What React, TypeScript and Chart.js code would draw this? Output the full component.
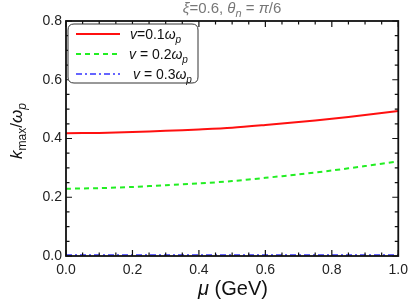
import React, { useEffect, useRef } from "react";
import { Chart, registerables } from "chart.js";

Chart.register(...registerables);

const muValues = [0, 0.1, 0.2, 0.3, 0.4, 0.5, 0.6, 0.7, 0.8, 0.9, 1.0];
const v01Values = [0.418, 0.419, 0.422, 0.426, 0.431, 0.437, 0.446, 0.456, 0.467, 0.48, 0.494];
const v02Values = [0.229, 0.231, 0.235, 0.241, 0.247, 0.255, 0.266, 0.278, 0.291, 0.306, 0.322];
const v03Values = [0.003, 0.003, 0.003, 0.003, 0.003, 0.003, 0.003, 0.003, 0.003, 0.003, 0.003];
const xTicks = [0, 0.2, 0.4, 0.6, 0.8, 1.0];
const yTicks = [0, 0.2, 0.4, 0.6, 0.8];

type Seg = { t: string; it?: boolean; sub?: boolean };

const FONT = "'Liberation Sans', Arial, sans-serif";

function drawRich(ctx: CanvasRenderingContext2D, segs: Seg[], x: number, y: number, size: number, align: "left" | "center", color: string) {
  const fontFor = (s: Seg) => `${s.it ? "italic " : ""}${s.sub ? Math.round(size * 0.72) : size}px ${FONT}`;
  let total = 0;
  for (const s of segs) {
    ctx.font = fontFor(s);
    total += ctx.measureText(s.t).width;
  }
  let cx = align === "center" ? x - total / 2 : x;
  ctx.fillStyle = color;
  ctx.textBaseline = "alphabetic";
  ctx.textAlign = "left";
  for (const s of segs) {
    ctx.font = fontFor(s);
    ctx.fillText(s.t, cx, s.sub ? y + size * 0.25 : y);
    cx += ctx.measureText(s.t).width;
  }
}

const legendItems = [
  { color: "#ff1010", dash: [] as number[], width: 2, segs: [{ t: "v", it: true }, { t: "=0.1" }, { t: "ω", it: true }, { t: "p", it: true, sub: true }] as Seg[], tx: 130 },
  { color: "#22ee22", dash: [5, 4], width: 2, segs: [{ t: "v", it: true }, { t: " = 0.2" }, { t: "ω", it: true }, { t: "p", it: true, sub: true }] as Seg[], tx: 129 },
  { color: "#3333ff", dash: [6, 3, 2, 3], width: 1.5, segs: [{ t: "v", it: true }, { t: " = 0.3" }, { t: "ω", it: true }, { t: "p", it: true, sub: true }] as Seg[], tx: 133 },
];

const decorPlugin = {
  id: "decor",
  afterDraw(chart: any) {
    const ctx: CanvasRenderingContext2D = chart.ctx;
    const { left, right, top, bottom } = chart.chartArea;
    const xs = chart.scales.x;
    const ys = chart.scales.y;
    ctx.save();
    // ticks
    ctx.strokeStyle = "#111";
    ctx.lineWidth = 1.2;
    ctx.setLineDash([]);
    for (let i = 0; i <= 20; i++) {
      const v = i * 0.05;
      const px = xs.getPixelForValue(v);
      const len = i % 4 === 0 ? 6 : 3.5;
      ctx.beginPath();
      ctx.moveTo(px, bottom);
      ctx.lineTo(px, bottom - len);
      ctx.moveTo(px, top);
      ctx.lineTo(px, top + len);
      ctx.stroke();
    }
    for (let i = 0; i <= 16; i++) {
      const v = i * 0.05;
      const py = ys.getPixelForValue(v);
      const len = i % 4 === 0 ? 6 : 3.5;
      ctx.beginPath();
      ctx.moveTo(left, py);
      ctx.lineTo(left + len, py);
      ctx.moveTo(right, py);
      ctx.lineTo(right - len, py);
      ctx.stroke();
    }
    // frame
    ctx.lineWidth = 1.8;
    ctx.strokeRect(left, top, right - left, bottom - top);
    // legend
    const lx = 68, ly = 24, lw = 130, lh = 59, r = 6;
    ctx.beginPath();
    ctx.moveTo(lx + r, ly);
    ctx.lineTo(lx + lw - r, ly);
    ctx.quadraticCurveTo(lx + lw, ly, lx + lw, ly + r);
    ctx.lineTo(lx + lw, ly + lh - r);
    ctx.quadraticCurveTo(lx + lw, ly + lh, lx + lw - r, ly + lh);
    ctx.lineTo(lx + r, ly + lh);
    ctx.quadraticCurveTo(lx, ly + lh, lx, ly + lh - r);
    ctx.lineTo(lx, ly + r);
    ctx.quadraticCurveTo(lx, ly, lx + r, ly);
    ctx.closePath();
    ctx.fillStyle = "#fff";
    ctx.fill();
    ctx.strokeStyle = "#333";
    ctx.lineWidth = 1;
    ctx.stroke();
    legendItems.forEach((it, i) => {
      const yy = 34 + i * 20;
      ctx.strokeStyle = it.color;
      ctx.lineWidth = it.width;
      ctx.setLineDash(it.dash);
      ctx.beginPath();
      ctx.moveTo(76, yy);
      ctx.lineTo(120, yy);
      ctx.stroke();
      ctx.setLineDash([]);
      drawRich(ctx, it.segs, it.tx, yy + 5, 14, "left", "#111");
    });
    // title
    drawRich(ctx, [{ t: "ξ", it: true }, { t: "=0.6, " }, { t: "θ", it: true }, { t: "n", it: true, sub: true }, { t: " = " }, { t: "π", it: true }, { t: "/6" }], 232, 13, 15, "center", "#777");
    // x title
    drawRich(ctx, [{ t: "μ", it: true }, { t: " (GeV)" }], 233, 295, 20, "center", "#111");
    // y title
    ctx.save();
    ctx.translate(22, 131);
    ctx.rotate(-Math.PI / 2);
    drawRich(ctx, [{ t: "k", it: true }, { t: "max", sub: true }, { t: "/" }, { t: "ω", it: true }, { t: "p", it: true, sub: true }], 0, 0, 17, "center", "#111");
    ctx.restore();
    ctx.restore();
  },
};

export default function App() {
  const ref = useRef<HTMLCanvasElement>(null);
  useEffect(() => {
    document.body.style.margin = "0";
    const toPts = (arr: number[]) => muValues.map((x, i) => ({ x, y: arr[i] }));
    const chart = new Chart(ref.current as HTMLCanvasElement, {
      type: "line",
      data: {
        datasets: [
          { data: toPts(v01Values), borderColor: "#ff1010", borderWidth: 2, pointRadius: 0, tension: 0.3, fill: false },
          { data: toPts(v02Values), borderColor: "#22ee22", borderWidth: 2, borderDash: [5, 4], pointRadius: 0, tension: 0.3, fill: false },
          { data: toPts(v03Values), borderColor: "#3333ff", borderWidth: 1.5, borderDash: [6, 3, 2, 3], pointRadius: 0, tension: 0, fill: false },
        ],
      },
      options: {
        animation: false,
        responsive: false,
        events: [],
        layout: { padding: { top: 21, right: 14, left: 0, bottom: 0 } },
        plugins: { legend: { display: false }, title: { display: false }, tooltip: { enabled: false } },
        scales: {
          x: {
            type: "linear",
            min: 0,
            max: 1,
            afterBuildTicks: (s: any) => { s.ticks = xTicks.map((v) => ({ value: v })); },
            afterFit: (s: any) => { s.height = 44; },
            grid: { display: false, drawTicks: false },
            border: { display: false },
            ticks: { padding: 6, color: "#222", font: { size: 14, family: FONT }, callback: (v: any) => Number(v).toFixed(1), maxRotation: 0 },
          },
          y: {
            type: "linear",
            min: 0,
            max: 0.8,
            afterBuildTicks: (s: any) => { s.ticks = yTicks.map((v) => ({ value: v })); },
            afterFit: (s: any) => { s.width = 66; },
            grid: { display: false, drawTicks: false },
            border: { display: false },
            ticks: { padding: 4, color: "#222", font: { size: 14, family: FONT }, callback: (v: any) => Number(v).toFixed(1) },
          },
        },
      },
      plugins: [decorPlugin],
    } as any);
    return () => chart.destroy();
  }, []);
  return (
    <div style={{ width: 414, height: 300 }}>
      <canvas ref={ref} width={414} height={300} style={{ display: "block" }} />
    </div>
  );
}
